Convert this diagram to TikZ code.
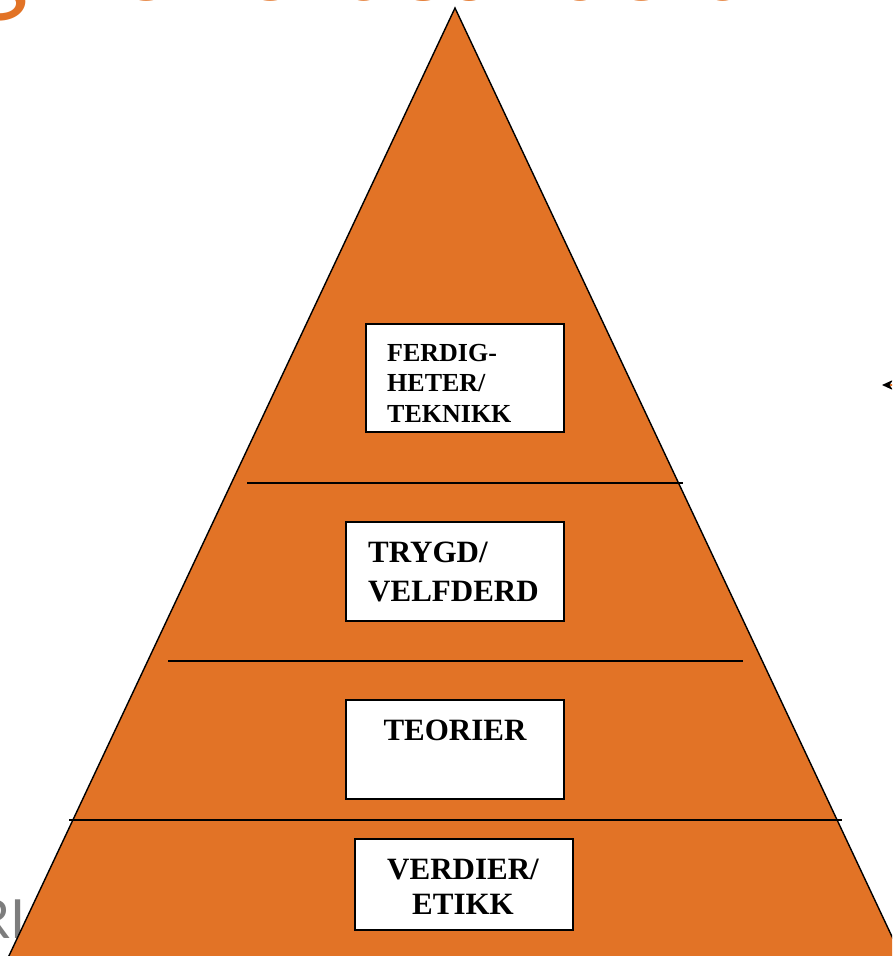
\documentclass[tikz,border=0pt]{standalone}
\usepackage{fontspec}
\setmainfont{Liberation Serif}
\newfontfamily\latofont{Lato}
\usetikzlibrary{arrows.meta}
\definecolor{pyr}{RGB}{226,115,38}
\definecolor{rigray}{RGB}{125,125,125}
\begin{document}
\begin{tikzpicture}[x=1pt,y=-1pt,
  levelbox/.style={draw=black, line width=1.6pt, fill=white, inner sep=0pt},
  lbl/.style={inner sep=0pt, font=\bfseries},
  divider/.style={line width=1.4pt}]
\useasboundingbox (0,0) rectangle (892,956);
\begin{scope}
\clip (0,0) rectangle (892,956);

% heading, mostly above the page edge
\node (title) [anchor=base east, inner sep=0pt, text=pyr,
  font=\latofont\fontsize{113}{113}\selectfont] at (760,0) {Faglig velferdsarbeid};

% grey letters behind the pyramid
\node (ri) [anchor=base east, inner sep=0pt, text=rigray,
  font=\latofont\fontsize{54}{54}\selectfont] at (26,938) {RI};

% pyramid
\coordinate (apex) at (455,8);
\coordinate (bl) at (7,960);
\coordinate (br) at (903,960);
\fill[pyr] (apex) -- (bl) -- (br) -- cycle;
\draw[line width=1.4pt, line join=miter] (bl) -- (apex) -- (br);

% level dividers
\coordinate (d1l) at (247,483); \coordinate (d1r) at (683,483);
\coordinate (d2l) at (168,661); \coordinate (d2r) at (743,661);
\coordinate (d3l) at (69,820);  \coordinate (d3r) at (842,820);
\draw[divider] (d1l) -- (d1r);
\draw[divider] (d2l) -- (d2r);
\draw[divider] (d3l) -- (d3r);

% level boxes
\node (b1) [levelbox, minimum width=198pt, minimum height=108pt] at (465,378) {};
\node (b2) [levelbox, minimum width=218pt, minimum height=99pt] at (455,571.5) {};
\node (b3) [levelbox, minimum width=218pt, minimum height=99pt] at (455,749.5) {};
\node (b4) [levelbox, minimum width=218pt, minimum height=91pt] at (464,884.5) {};

% level labels
\node (t1) [lbl, anchor=north west, align=left, font=\bfseries\fontsize{26}{30.5}\selectfont]
  at (387,344) {FERDIG-\\HETER/\\TEKNIKK};
\node (t2) [lbl, anchor=north west, align=left, font=\bfseries\fontsize{31}{39}\selectfont]
  at (368,542) {TRYGD/\\VELFDERD};
\node (t3) [lbl, anchor=north, align=center, font=\bfseries\fontsize{31}{36}\selectfont]
  at (455,720) {TEORIER};
\node (t4) [lbl, anchor=north, align=center, font=\bfseries\fontsize{31}{35}\selectfont]
  at (463,859) {VERDIER/\\ETIKK};

% arrow entering from the right edge
\coordinate (arrS) at (898,385);
\coordinate (arrE) at (882,385);
\draw[pyr, line width=2pt, -{Stealth[black, length=11pt, width=10pt]}] (arrS) -- (arrE);
\end{scope}
\end{tikzpicture}
\end{document}
